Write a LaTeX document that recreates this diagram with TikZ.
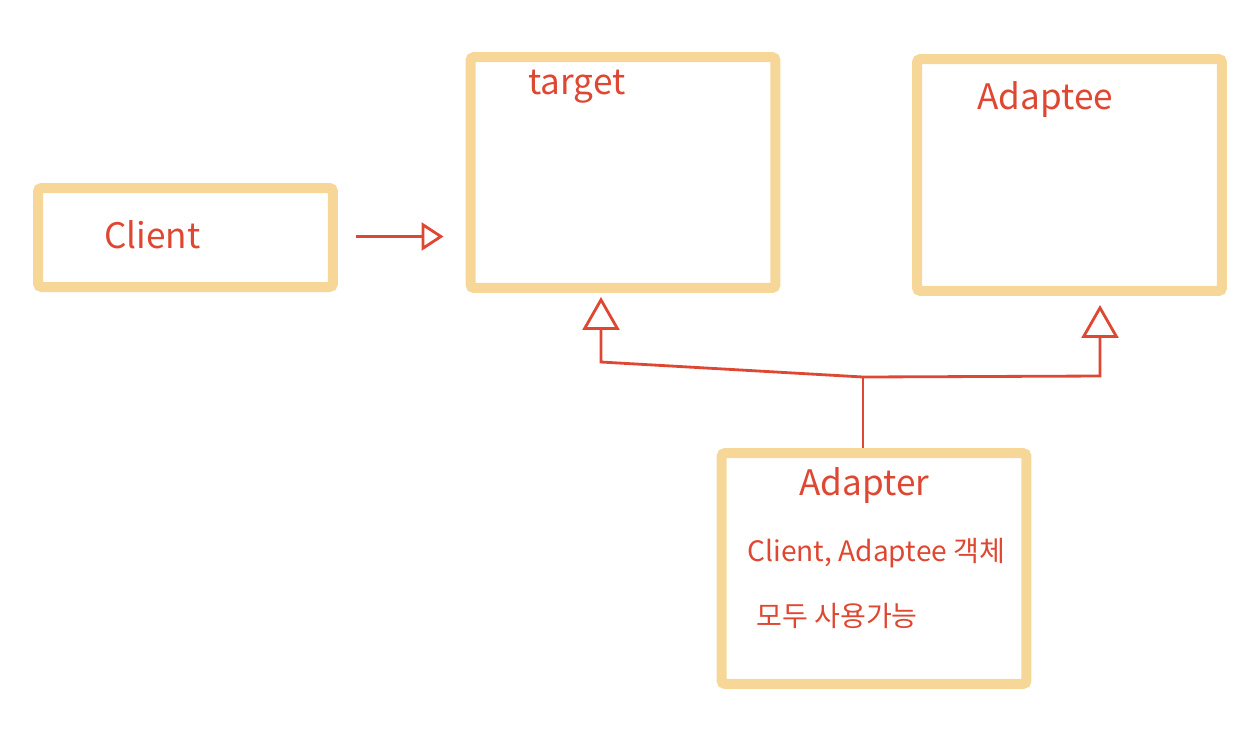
\documentclass[tikz,border=0pt]{standalone}
\usepackage{fontspec}
\setmainfont{Noto Sans CJK KR}
\usepackage{tikz}
\usetikzlibrary{arrows.meta, positioning, calc}
\definecolor{boxframe}{RGB}{246,215,152}
\definecolor{penred}{RGB}{222,72,50}
\tikzset{
  classbox/.style={rectangle, draw=boxframe, line width=0.2cm,
    rounded corners=2pt, minimum width=6.1cm, minimum height=4.62cm},
  lbl/.style={font=\fontsize{20}{24}\selectfont, text=penred, inner sep=0pt, anchor=west},
  smalllbl/.style={font=\fontsize{16}{19}\selectfont, text=penred, inner sep=0pt, anchor=west},
  assoc/.style={-{Triangle[open, length=0.44cm, width=0.56cm, line width=1.6pt]},
    line width=1.6pt, color=penred},
  inherit/.style={-{Triangle[open, length=0.66cm, width=0.74cm, line width=1.6pt]},
    line width=1.6pt, color=penred},
  line/.style={line width=1.6pt, color=penred}
}
\begin{document}
\begin{tikzpicture}[x=0.02cm, y=-0.02cm]
  \useasboundingbox (0,0) rectangle (1260,755);

  % boxes
  \node[classbox, minimum width=5.9cm, minimum height=1.98cm] (client) at (185.5,237.5) {};
  \node[classbox] (target) at (623,172.5) {};
  \node[classbox, minimum height=4.64cm] (adaptee) at (1069.5,175) {};
  \node[classbox] (adapter) at (874,568.5) {};

  % labels
  \node[lbl] (clientlbl) at (104,235) {Client};
  \node[lbl] (targetlbl) at (528,87) {target};
  \node[lbl] (adapteelbl) at (977,100) {Adaptee};
  \node[lbl] (adapterlbl) at (799,486) {Adapter};
  \node[smalllbl] (note1) at (747,553) {Client, Adaptee 객체};
  \node[smalllbl] (note2) at (756,616) {모두 사용가능};

  % Client uses target
  \coordinate (usefrom) at ($(client.east)+(18,-1)$);
  \coordinate (useto) at ($(usefrom -| target.west)+(-22,0)$);
  \draw[assoc] (usefrom) -- (useto);

  % Adapter inherits both
  \coordinate (join) at (863,377);
  \coordinate (lcorner) at (601,362);
  \coordinate (rcorner) at (1100,376);
  \draw[line] (adapter.north -| join) -- (join);
  \draw[inherit] (join) -- (lcorner) -- ($(target.south -| lcorner)+(0,4)$);
  \draw[inherit] (join) -- (rcorner) -- ($(adaptee.south -| rcorner)+(0,9)$);
\end{tikzpicture}
\end{document}
